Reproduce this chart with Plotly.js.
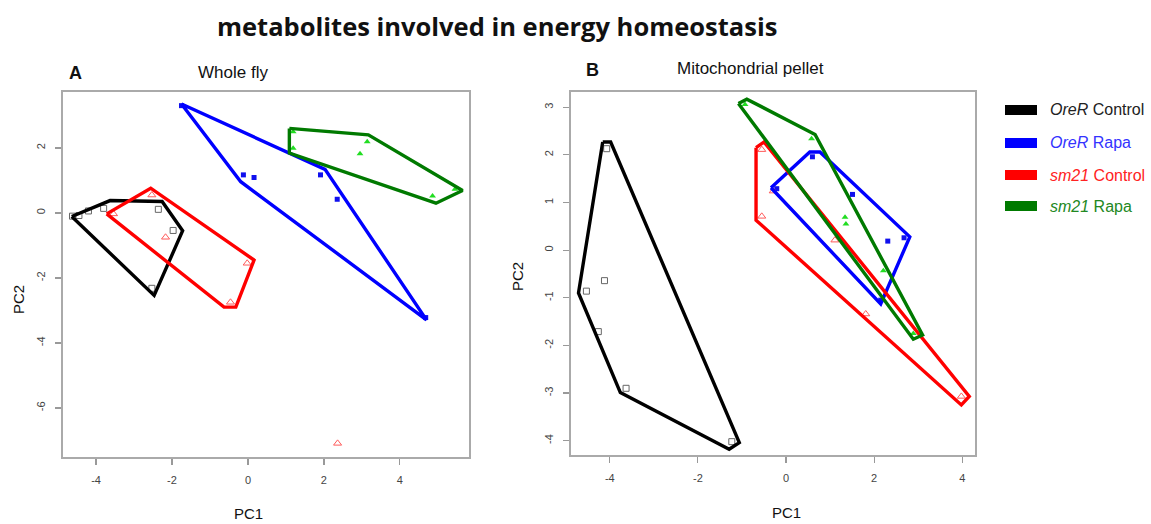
<!DOCTYPE html>
<html>
<head>
<meta charset="utf-8">
<script src="https://cdn.plot.ly/plotly-3.0.1.min.js"></script>
<style>html,body{margin:0;padding:0;background:#fff;}#chart{width:1151px;height:524px;}</style>
</head>
<body>
<div id="chart"></div>
<script>
// ---------- Data: panel A (Whole fly) ----------
const groupNames = ["OreR Control", "OreR Rapa", "sm21 Control", "sm21 Rapa"];

const wfOreRCtrlPC1 = [-4.62, -4.45, -4.2, -3.8, -2.36, -1.97, -2.53];
const wfOreRCtrlPC2 = [-0.1, -0.08, 0.06, 0.14, 0.11, -0.54, -2.32];
const wfOreRCtrlHullPC1 = [-4.64, -3.63, -2.26, -1.72, -2.47, -4.64];
const wfOreRCtrlHullPC2 = [-0.11, 0.38, 0.35, -0.55, -2.54, -0.11];

const wfOreRRapaPC1 = [-1.75, -0.12, 0.16, 1.91, 2.35, 4.68];
const wfOreRRapaPC2 = [3.3, 1.17, 1.09, 1.17, 0.42, -3.22];
const wfOreRRapaHullPC1 = [-1.75, 2.03, 4.7, -0.19, -1.75];
const wfOreRRapaHullPC2 = [3.35, 1.34, -3.29, 0.96, 3.35];

const wfSm21CtrlPC1 = [-2.53, -3.54, -2.17, -0.02, -0.46, 2.36];
const wfSm21CtrlPC2 = [0.55, -0.03, -0.75, -1.55, -2.75, -7.09];
const wfSm21CtrlHullPC1 = [-3.72, -2.56, 0.16, -0.32, -0.63, -3.72];
const wfSm21CtrlHullPC2 = [-0.03, 0.76, -1.45, -2.9, -2.9, -0.03];

const wfSm21RapaPC1 = [1.19, 1.19, 3.14, 2.95, 4.86, 5.45];
const wfSm21RapaPC2 = [2.5, 1.99, 2.19, 1.82, 0.52, 0.73];
const wfSm21RapaHullPC1 = [1.09, 3.17, 5.65, 4.95, 1.09, 1.09];
const wfSm21RapaHullPC2 = [2.6, 2.4, 0.69, 0.3, 1.84, 2.6];

// ---------- Data: panel B (Mitochondrial pellet) ----------
const mpOreRCtrlPC1 = [-4.07, -4.12, -4.53, -4.26, -3.63, -1.23];
const mpOreRCtrlPC2 = [2.13, -0.64, -0.86, -1.71, -2.9, -4.02];
const mpOreRCtrlHullPC1 = [-4.16, -3.98, -1.06, -1.29, -3.76, -4.71, -4.16];
const mpOreRCtrlHullPC2 = [2.27, 2.27, -4.04, -4.18, -2.99, -0.9, 2.27];

const mpOreRRapaPC1 = [-0.21, 0.6, 1.51, 2.31, 2.68, 2.15];
const mpOreRRapaPC2 = [1.29, 1.96, 1.17, 0.19, 0.26, -1.05];
const mpOreRRapaHullPC1 = [-0.34, 0.54, 0.77, 2.81, 2.15, -0.34];
const mpOreRRapaHullPC2 = [1.31, 2.06, 2.06, 0.28, -1.13, 1.31];

const mpSm21CtrlPC1 = [-0.55, -0.29, -0.55, 1.11, 1.81, 3.98];
const mpSm21CtrlPC2 = [2.11, 1.24, 0.71, 0.21, -1.34, -3.07];
const mpSm21CtrlHullPC1 = [-0.68, -0.5, 4.16, 3.98, -0.68, -0.68];
const mpSm21CtrlHullPC2 = [2.15, 2.27, -3.07, -3.25, 0.63, 2.15];

const mpSm21RapaPC1 = [-0.93, 0.58, 1.34, 1.36, 2.21, 2.89];
const mpSm21RapaPC2 = [3.06, 2.34, 0.69, 0.55, -0.43, -1.75];
const mpSm21RapaHullPC1 = [-1.08, -0.89, 0.66, 3.1, 2.89, -1.08];
const mpSm21RapaHullPC2 = [3.08, 3.17, 2.43, -1.78, -1.87, 3.08];

const xTicks = [-4, -2, 0, 2, 4];
const yTicksA = [-6, -4, -2, 0, 2];
const yTicksB = [-4, -3, -2, -1, 0, 1, 2, 3];

// ---------- Styles ----------
const W = 1151, H = 524;
const px = x => x / W;
const py = y => 1 - y / H;

const hullColors = ["#000000", "#0000ff", "#ff0000", "#007a00"];
const ptStyles = [
  {symbol: "square-open", size: 6, color: "#666666", line: {width: 1, color: "#666666"}},
  {symbol: "square", size: 5, color: "#1010ee", line: {width: 0}},
  {symbol: "triangle-up-open", size: 7, color: "#ff5a5a", line: {width: 1, color: "#ff5a5a"}},
  {symbol: "triangle-up", size: 6, color: "#22dd22", line: {width: 0}}
];

const panels = [
  {xa: "x", ya: "y", groups: [
    [wfOreRCtrlPC1, wfOreRCtrlPC2, wfOreRCtrlHullPC1, wfOreRCtrlHullPC2],
    [wfOreRRapaPC1, wfOreRRapaPC2, wfOreRRapaHullPC1, wfOreRRapaHullPC2],
    [wfSm21CtrlPC1, wfSm21CtrlPC2, wfSm21CtrlHullPC1, wfSm21CtrlHullPC2],
    [wfSm21RapaPC1, wfSm21RapaPC2, wfSm21RapaHullPC1, wfSm21RapaHullPC2]
  ]},
  {xa: "x2", ya: "y2", groups: [
    [mpOreRCtrlPC1, mpOreRCtrlPC2, mpOreRCtrlHullPC1, mpOreRCtrlHullPC2],
    [mpOreRRapaPC1, mpOreRRapaPC2, mpOreRRapaHullPC1, mpOreRRapaHullPC2],
    [mpSm21CtrlPC1, mpSm21CtrlPC2, mpSm21CtrlHullPC1, mpSm21CtrlHullPC2],
    [mpSm21RapaPC1, mpSm21RapaPC2, mpSm21RapaHullPC1, mpSm21RapaHullPC2]
  ]}
];

const traces = [];
panels.forEach(p => {
  p.groups.forEach((g, i) => {
    traces.push({
      type: "scatter", mode: "markers", x: g[0], y: g[1],
      xaxis: p.xa, yaxis: p.ya, name: groupNames[i], showlegend: false,
      marker: ptStyles[i], hoverinfo: "skip"
    });
  });
  p.groups.forEach((g, i) => {
    traces.push({
      type: "scatter", mode: "lines", x: g[2], y: g[3],
      xaxis: p.xa, yaxis: p.ya, name: groupNames[i], showlegend: false,
      line: {color: hullColors[i], width: 3.4}, hoverinfo: "skip"
    });
  });
});

const axisFont = {family: "Liberation Sans, Arial, sans-serif", size: 11, color: "#444"};
function xAxis(domain, range) {
  return {domain: domain, range: range, tickvals: xTicks, ticktext: xTicks.map(String),
    ticks: "outside", ticklen: 6, tickcolor: "#999", tickwidth: 1.2,
    showline: true, mirror: true, linecolor: "#aaa", linewidth: 1.8,
    showgrid: false, zeroline: false, tickfont: axisFont, ticklabelstandoff: 6, fixedrange: true};
}
function yAxis(domain, range, ticks, anchor) {
  return {domain: domain, range: range, tickvals: ticks, ticktext: ticks.map(String), anchor: anchor,
    ticks: "outside", ticklen: 6, tickcolor: "#999", tickwidth: 1.2, tickangle: -90,
    showline: true, mirror: true, linecolor: "#aaa", linewidth: 1.8,
    showgrid: false, zeroline: false, tickfont: axisFont, ticklabelstandoff: 6, fixedrange: true};
}

const annFont = {family: "Liberation Sans, Arial, sans-serif", color: "#111"};
const annotations = [
  {text: "<b>metabolites involved in energy homeostasis</b>", x: px(497), y: py(26),
   font: {family: "Open Sans, Lato, sans-serif", size: 25.5, color: "#111"}},
  {text: "<b>A</b>", x: px(75), y: py(73), font: Object.assign({size: 18}, annFont)},
  {text: "Whole fly", x: px(233), y: py(72), font: Object.assign({size: 17}, annFont)},
  {text: "<b>B</b>", x: px(592), y: py(70), font: Object.assign({size: 18}, annFont)},
  {text: "Mitochondrial pellet", x: px(750), y: py(69), font: Object.assign({size: 17}, annFont)},
  {text: "PC1", x: px(248), y: py(513), font: Object.assign({size: 15}, annFont)},
  {text: "PC2", x: px(18), y: py(300), textangle: -90, font: Object.assign({size: 15}, annFont)},
  {text: "PC1", x: px(786), y: py(512), font: Object.assign({size: 15}, annFont)},
  {text: "PC2", x: px(517), y: py(277), textangle: -90, font: Object.assign({size: 15}, annFont)}
].map(a => Object.assign({xref: "paper", yref: "paper", showarrow: false, xanchor: "center", yanchor: "middle"}, a));

// custom legend
const legendLabels = ["<i>OreR</i> Control", "<i>OreR</i> Rapa", "<i>sm21</i> Control", "<i>sm21</i> Rapa"];
const legendTextColors = ["#222", "#3333ff", "#ff2222", "#228822"];
const legendY = [110, 143, 175, 206];
const shapes = [];
legendLabels.forEach((lab, i) => {
  shapes.push({type: "rect", xref: "paper", yref: "paper",
    x0: px(1005), x1: px(1037), y0: py(legendY[i] + 5), y1: py(legendY[i] - 5),
    fillcolor: hullColors[i], line: {width: 0}});
  annotations.push({text: lab, xref: "paper", yref: "paper", x: px(1048), y: py(legendY[i]),
    xanchor: "left", yanchor: "middle", showarrow: false,
    font: {family: "Liberation Sans, Arial, sans-serif", size: 16, color: legendTextColors[i]}});
});

const layout = {
  width: W, height: H, margin: {l: 0, r: 0, t: 0, b: 0},
  paper_bgcolor: "#fff", plot_bgcolor: "#fff", showlegend: false,
  xaxis: xAxis([px(63), px(469)], [-4.87, 5.82]),
  yaxis: yAxis([py(457), py(92)], [-7.51, 3.72], yTicksA, "x"),
  xaxis2: Object.assign(xAxis([px(571), px(975)], [-4.88, 4.29]), {anchor: "y2"}),
  yaxis2: yAxis([py(455), py(92)], [-4.3, 3.32], yTicksB, "x2"),
  annotations: annotations, shapes: shapes
};
layout.xaxis.anchor = "y";

Plotly.newPlot("chart", traces, layout, {displayModeBar: false, staticPlot: true});
</script>
</body>
</html>
